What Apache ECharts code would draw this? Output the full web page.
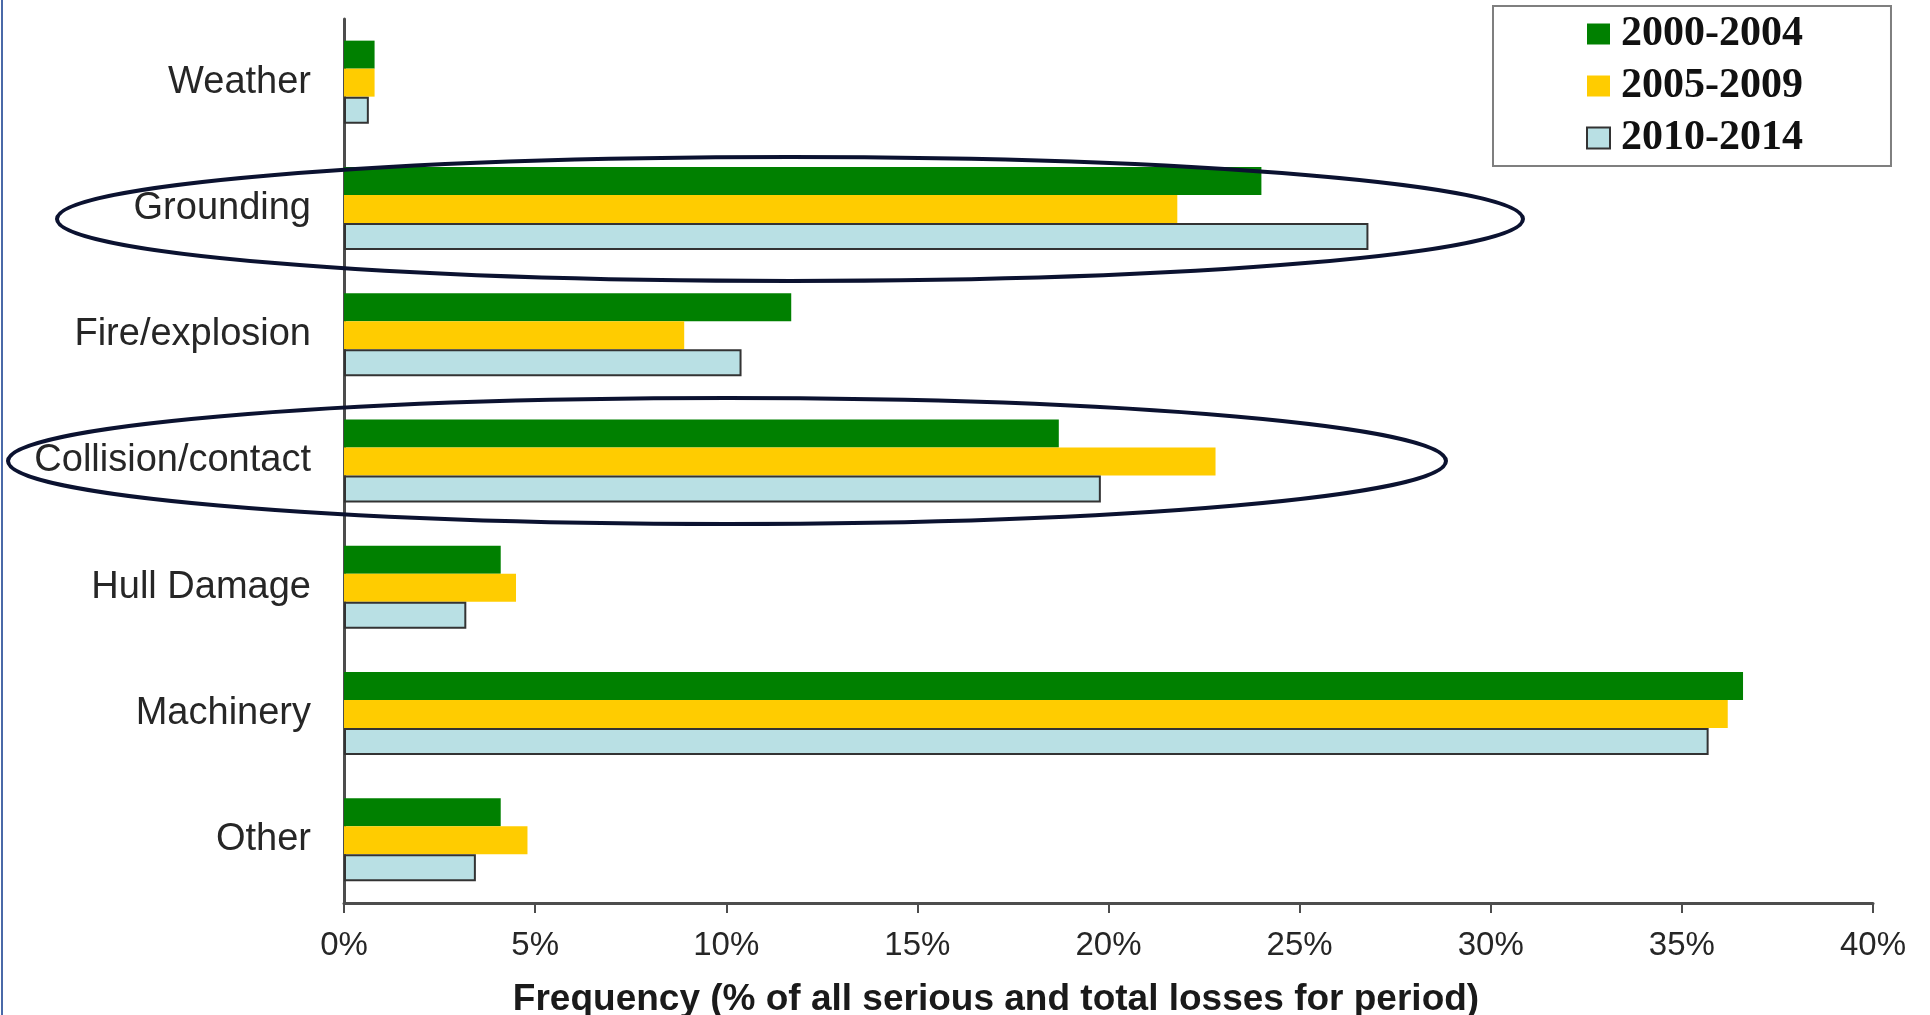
<!DOCTYPE html>
<html>
<head>
<meta charset="utf-8">
<script src="https://cdn.jsdelivr.net/npm/echarts@6/dist/echarts.min.js"></script>
<style>
  html, body { margin: 0; padding: 0; background: #ffffff; }
  #chart { width: 1930px; height: 1015px; }
</style>
</head>
<body>
<div id="chart"></div>
<script>
const categories = ['Weather', 'Grounding', 'Fire/explosion', 'Collision/contact', 'Hull Damage', 'Machinery', 'Other'];
const periods = ['2000-2004', '2005-2009', '2010-2014'];

// values in %
const values2000 = [0.8, 24.0, 11.7, 18.7, 4.1, 36.6, 4.1];
const values2005 = [0.8, 21.8, 8.9, 22.8, 4.5, 36.2, 4.8];
const values2010 = [0.65, 26.8, 10.4, 19.8, 3.2, 35.7, 3.45];

const xTicks = [0, 5, 10, 15, 20, 25, 30, 35, 40];

const chart = echarts.init(document.getElementById('chart'));

const labelFont = '"Liberation Sans", Arial, sans-serif';

const option = {
  backgroundColor: '#ffffff',
  animation: false,
  title: {
    text: 'Frequency (% of all serious and total losses for period)',
    left: 991,
    top: 976,
    textAlign: 'center',
    textStyle: {
      fontFamily: labelFont,
      fontSize: 37,
      fontWeight: 'bold',
      color: '#1a1a1a'
    }
  },
  legend: {
    data: periods,
    orient: 'vertical',
    icon: 'rect',
    left: 1493,
    top: 6,
    padding: [7, 88, 7, 93],
    itemWidth: 23,
    itemHeight: 21,
    itemGap: 10,
    borderColor: '#7f7f7f',
    borderWidth: 2,
    textStyle: {
      fontFamily: '"Liberation Serif", "Times New Roman", serif',
      fontSize: 42,
      fontWeight: 'bold',
      color: '#111111',
      padding: [0, 0, 0, 6]
    }
  },
  grid: {
    left: 344,
    right: 57,
    top: 19,
    bottom: 112,
    containLabel: false
  },
  xAxis: {
    type: 'value',
    min: xTicks[0],
    max: xTicks[xTicks.length - 1],
    interval: 5,
    axisLine: { show: true, lineStyle: { color: '#4d4d4d', width: 3 } },
    axisTick: { show: true, length: 10, lineStyle: { color: '#4d4d4d', width: 2 } },
    splitLine: { show: false },
    axisLabel: {
      margin: 26,
      fontFamily: labelFont,
      fontSize: 33,
      color: '#262626',
      formatter: '{value}%'
    }
  },
  yAxis: {
    type: 'category',
    data: categories,
    inverse: true,
    axisLine: { show: true, lineStyle: { color: '#4d4d4d', width: 3 } },
    axisTick: { show: false },
    axisLabel: {
      margin: 33,
      fontFamily: labelFont,
      fontSize: 38,
      color: '#262626',
      padding: [8, 0, 0, 0]
    }
  },
  series: [
    {
      name: periods[0],
      type: 'bar',
      data: values2000,
      barWidth: 28,
      barGap: '0%',
      itemStyle: { color: '#008000' }
    },
    {
      name: periods[1],
      type: 'bar',
      data: values2005,
      barWidth: 28,
      barGap: '0%',
      itemStyle: { color: '#ffcc00' }
    },
    {
      name: periods[2],
      type: 'bar',
      data: values2010,
      barWidth: 27,
      barGap: '0%',
      itemStyle: { color: '#b9e0e4', borderColor: '#333333', borderWidth: 2 }
    }
  ],
  graphic: [
    {
      type: 'line',
      shape: { x1: 2, y1: 0, x2: 2, y2: 1015 },
      style: { stroke: '#4a69a8', lineWidth: 2 }
    },
    {
      // highlight round Grounding
      type: 'ellipse',
      shape: { cx: 790, cy: 219, rx: 733, ry: 62 },
      style: { fill: null, stroke: '#0b1230', lineWidth: 4 },
      z: 10
    },
    {
      // highlight round Collision/contact
      type: 'ellipse',
      shape: { cx: 727, cy: 461, rx: 719, ry: 63 },
      style: { fill: null, stroke: '#0b1230', lineWidth: 4 },
      z: 10
    }
  ]
};

chart.setOption(option);
</script>
</body>
</html>
